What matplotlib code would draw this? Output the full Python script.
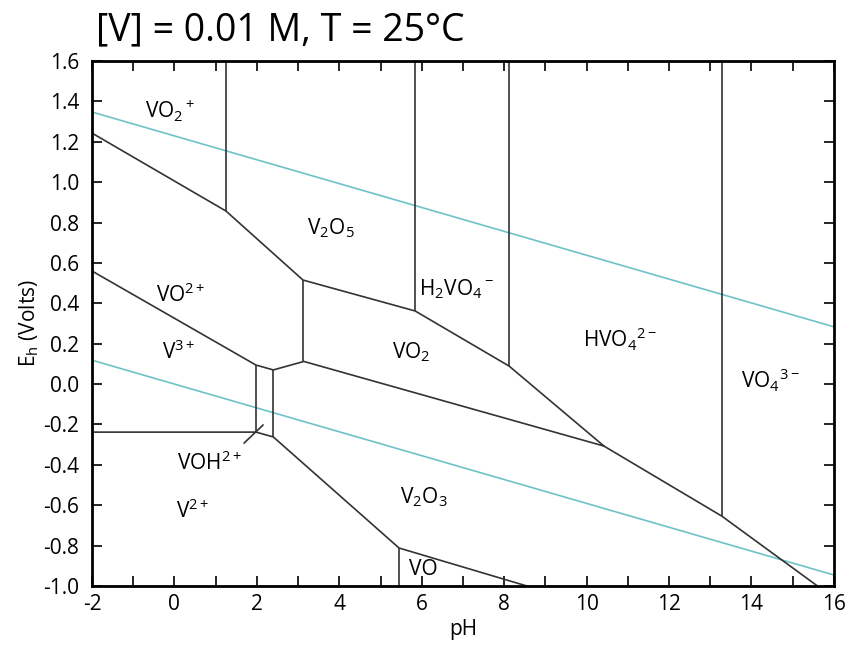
import matplotlib
matplotlib.use('Agg')
import matplotlib.pyplot as plt

plt.rcParams['font.family'] = ['Open Sans', 'DejaVu Sans']
plt.rcParams['mathtext.fontset'] = 'custom'
plt.rcParams['mathtext.rm'] = 'Open Sans'
plt.rcParams['mathtext.it'] = 'Open Sans'
plt.rcParams['axes.unicode_minus'] = False

# main upper boundary (VO2+ / VO2+ / V2O5 / ... / VO4 3-)
upper_ph = [-2.0, 1.25, 3.12, 5.84, 8.12, 10.42, 13.28, 15.6]
upper_e = [1.243, 0.857, 0.515, 0.362, 0.089, -0.307, -0.654, -1.0]

# V3+ / VO2+ and VO2 / V2O3 boundary
mid_ph = [-2.0, 1.98, 2.40, 3.14, 10.42]
mid_e = [0.56, 0.094, 0.07, 0.112, -0.307]

# V2+ lower boundary
low_ph = [-2.0, 1.98, 2.40, 5.45, 8.55]
low_e = [-0.238, -0.238, -0.262, -0.812, -1.0]

# vertical boundaries: pH, E bottom, E top
vert_ph = [1.25, 5.84, 8.12, 13.28, 3.12, 1.98, 2.40, 5.45]
vert_lo = [0.857, 0.362, 0.089, -0.654, 0.112, -0.238, -0.262, -1.0]
vert_hi = [1.6, 1.6, 1.6, 1.6, 0.515, 0.094, 0.07, -0.812]

# water stability lines
water_ph = [-2.0, 16.0]
water_hi = [1.229 + 0.0591 * 2, 1.229 - 0.0591 * 16]
water_lo = [0.0591 * 2, -0.0591 * 16]

labels = ['VO$_2$$^+$', 'V$_2$O$_5$', 'VO$^{2+}$', 'H$_2$VO$_4$$^-$', 'V$^{3+}$',
          'VO$_2$', 'HVO$_4$$^{2-}$', 'VO$_4$$^{3-}$', 'VOH$^{2+}$', 'V$_2$O$_3$',
          'V$^{2+}$', 'VO']
label_ph = [-0.1, 3.8, 0.15, 6.85, 0.1, 5.75, 10.8, 14.45, 0.85, 6.05, 0.45, 6.05]
label_e = [1.35, 0.77, 0.44, 0.47, 0.16, 0.16, 0.22, 0.02, -0.39, -0.56, -0.63, -0.92]

fig = plt.figure(figsize=(8.5, 6.48), dpi=100)
ax = fig.add_axes([0.1082, 0.0957, 0.8729, 0.8102])

wc = '#6cc3c8'
ax.plot(water_ph, water_hi, color=wc, lw=1.2)
ax.plot(water_ph, water_lo, color=wc, lw=1.2)

lc = '#333333'
ax.plot(upper_ph, upper_e, color=lc, lw=1.2)
ax.plot(mid_ph, mid_e, color=lc, lw=1.2)
ax.plot(low_ph, low_e, color=lc, lw=1.2)
ax.vlines(vert_ph, vert_lo, vert_hi, color=lc, lw=1.2)

# pointer for VOH2+
ax.annotate('', xy=(2.2, -0.193), xytext=(1.64, -0.302),
            arrowprops=dict(arrowstyle='-', color=lc, lw=1.2))

for t, x, y in zip(labels, label_ph, label_e):
    ax.text(x, y, t, fontsize=15, ha='center', va='center')

ax.set_xlim(-2, 16)
ax.set_ylim(-1.0, 1.6)
ax.set_xticks(range(-2, 17, 2))
ax.set_xticks(range(-2, 17), minor=True)
ax.set_yticks([-1.0 + 0.2 * i for i in range(14)])
ax.set_yticklabels(['%.1f' % (-1.0 + 0.2 * i) for i in range(14)])
ax.tick_params(which='both', direction='in', top=True, right=True, labelsize=15, width=1.2)
ax.tick_params(which='both', length=7)
ax.tick_params(axis='y', pad=9)
ax.tick_params(axis='x', pad=6)
for s in ax.spines.values():
    s.set_linewidth(2)

ax.set_xlabel('pH', fontsize=15, labelpad=3)
ax.set_ylabel('E$_\\mathrm{h}$ (Volts)', fontsize=15, labelpad=2)
fig.text(0.113, 0.953, '[V] = 0.01 M, T = 25°C', fontsize=27, ha='left', va='center')

fig.savefig('out.png', dpi=100)
